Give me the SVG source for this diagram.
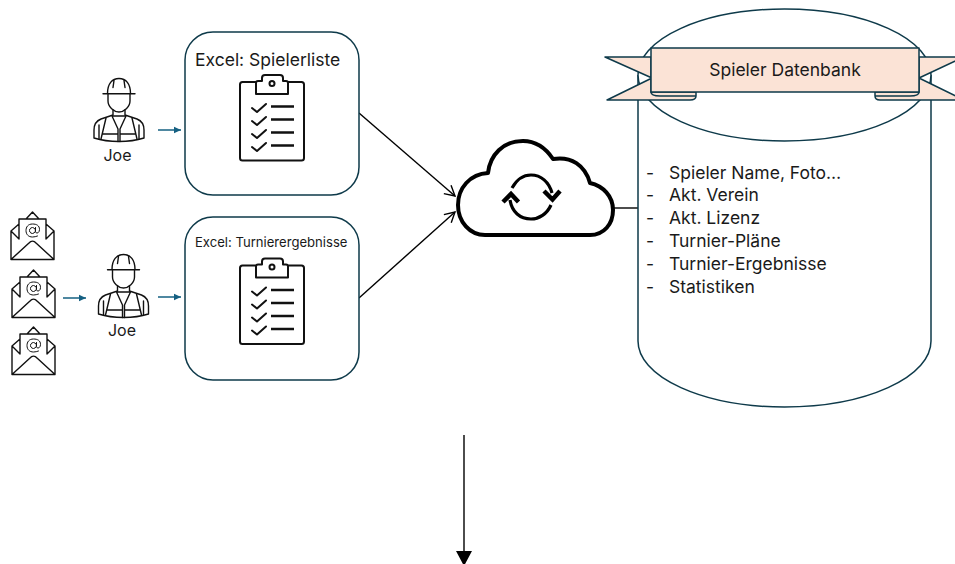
<svg xmlns="http://www.w3.org/2000/svg" xmlns:xlink="http://www.w3.org/1999/xlink" width="955" height="564" viewBox="0 0 955 564">
<style>
text{font-family:Inter,"Noto Sans","Liberation Sans",sans-serif;fill:#1a1a1a;font-size:17.500px}
text.joe{font-size:16px}
.box{fill:#fff;stroke:#0e3a4a;stroke-width:1.5}
.ic{fill:none;stroke:#111;stroke-width:1.400;stroke-linejoin:round;stroke-linecap:round}
.blue{stroke:#156082;stroke-width:1.5;fill:none;marker-end:url(#mb)}
.blk{stroke:#000;stroke-width:1.4;fill:none}
.rib{fill:#fbe3d6;stroke:#0e3a4a;stroke-width:1.5;stroke-linejoin:round}
</style>
<defs>
<marker id="mb" markerUnits="userSpaceOnUse" markerWidth="8" markerHeight="8" refX="7" refY="4" orient="auto"><path d="M0 .8L7 4L0 7.2z" fill="#156082"/></marker>
<marker id="mo" markerUnits="userSpaceOnUse" markerWidth="14" markerHeight="14" refX="12" refY="7" orient="auto"><path d="M2 1.5L12 7L2 12.5" fill="none" stroke="#000" stroke-width="1.4"/></marker>
<g id="worker" class="ic">
<path d="M-16 15.700H16M-11.500 15.500C-11.500 6-7 0.500 0 0.500C7 0.500 11.500 6 11.500 15.500M-5 2.500L-6 9.500M5 2.500L6 9.500"/>
<path d="M-11 16V23C-11 29-5 34 0 34C5 34 11 29 11 23V16"/>
<path d="M-6 32V37L-18 41C-23 43-25 47-25 52V60C-17 62.500-8 63.500 0 63.500C8 63.500 17 62.500 25 60V52C25 47 23 43 18 41L6 37V32"/>
<path d="M-7 38L-1 51M7 38L1 51M-1 51V63.500M1 51V63.500M-7 38H7M-13 40L-18 61M13 40L18 61M-16.500 56H-1M16.500 56H1M-20 47V61M20 47V61"/>
</g>
<g id="envelope" class="ic">
<path d="M0 19V47.500H43V19L35 12M0 19L8 12M15 7L21.500 0L28 7M8 27V7H35V27M0 19L8 27M43 19L35 27M0 47.500L18 31C20 28.500 23 28.500 25 31L43 47.500"/>
<path d="M24.500 18.500a3 3 0 1 0 0 .01zM24.500 15.500V19.500C24.500 22 28.500 21.500 28.500 17.500C28.500 13.500 25.500 12 21.500 12C17 12 15 15 15 18.500C15 22.500 17.500 25 21.500 25C23.500 25 25 24.500 26.500 24" stroke-width="1"/>
</g>
<g id="clipboard">
<path class="ic" style="stroke-width:2" d="M16 7H2.500Q0 7 0 9.500V83Q0 85.500 2.500 85.500H61.500Q64 85.500 64 83V9.500Q64 7 61.500 7H48M16 19V8Q16 6 18 6H22V3Q22 0 25 0H40Q43 0 43 3V6H46Q48 6 48 8V19Z"/>
<circle cx="32" cy="8.500" r="2.500" class="ic" style="stroke-width:2"/>
<path fill="none" stroke="#111" stroke-width="2.400" d="M31 31.500H54M31 44.500H54M31 57.500H54M31 70.500H54"/>
<path class="ic" style="stroke-width:2" d="M12 33L17 37L26 29M12 46L17 50L26 42M12 59L17 63L26 55M12 72L17 76L26 68"/>
</g>
</defs>
<rect width="955" height="564" fill="#fff"/>

<g id="connectors">
<path class="blue" d="M158 130H181"/>
<path class="blue" d="M158 297H181"/>
<path class="blue" d="M63 298H86"/>
<path class="blk" marker-end="url(#mo)" d="M359 113L455 196"/>
<path class="blk" marker-end="url(#mo)" d="M359 298L455 212"/>
<path class="blk" d="M614 208H638"/>
<path class="blk" d="M464 435V553"/>
<path d="M456 551H472L464 566z" fill="#000"/>
</g>

<g id="db">
<path class="box" d="M638 75V341A146.500 66 0 0 0 931 341V75"/>
<ellipse class="box" cx="784.500" cy="75" rx="146.500" ry="66"/>
<text x="646" y="179">-</text><text x="669" y="179">Spieler Name, Foto…</text>
<text x="646" y="201">-</text><text x="669" y="201">Akt. Verein</text>
<text x="646" y="224">-</text><text x="669" y="224">Akt. Lizenz</text>
<text x="646" y="247">-</text><text x="669" y="247">Turnier-Pläne</text>
<text x="646" y="270">-</text><text x="669" y="270">Turnier-Ergebnisse</text>
<text x="646" y="293">-</text><text x="669" y="293">Statistiken</text>
</g>

<g id="banner">
<path class="rib" d="M651 57H605L652 78L607 100H690Q696 100 696 96V92H651z"/>
<path class="rib" d="M919 57H964L919 78L964 100H880Q875 100 875 96V92H919z"/>
<path class="rib" d="M651 92Q651 96 660 96H696M919 92Q919 96 910 96H875" style="fill:none"/>
<rect class="rib" x="651" y="48" width="268" height="44"/>
<text x="785" y="76" text-anchor="middle">Spieler Datenbank</text>
</g>

<g id="box1">
<rect class="box" x="185" y="32" width="174" height="163" rx="28"/>
<text x="195" y="66">Excel: Spielerliste</text>
<use xlink:href="#clipboard" href="#clipboard" x="240" y="75"/>
</g>
<g id="box2">
<rect class="box" x="185" y="217" width="174" height="163" rx="28"/>
<text x="195" y="247" style="font-size:13.100px">Excel: Turnierergebnisse</text>
<use xlink:href="#clipboard" href="#clipboard" x="240" y="258.500"/>
</g>

<g id="worker1"><use xlink:href="#worker" href="#worker" x="119" y="78"/><text class="joe" x="117.500" y="161" text-anchor="middle">Joe</text></g>
<g id="worker2"><use xlink:href="#worker" href="#worker" x="123.500" y="254"/><text class="joe" x="122" y="336" text-anchor="middle">Joe</text></g>

<g id="mail1"><use xlink:href="#envelope" href="#envelope" x="11" y="212"/></g>
<g id="mail2"><use xlink:href="#envelope" href="#envelope" x="12" y="270"/></g>
<g id="mail3"><use xlink:href="#envelope" href="#envelope" x="12" y="327"/></g>

<g id="cloud">
<path fill="#fff" stroke="#000" stroke-width="4" stroke-linejoin="round" d="M485 235H590C604 235 613 224 613 210C613 196 603 186 590 183C585 165 571 156 553 159C545 147 535 141 523 141C503 141 490 155 488 173C470 174 458 188 458 205C458 222 470 235 485 235Z"/>
<path fill="none" stroke="#000" stroke-width="3.200" d="M512 188C517 179 524 175 531 175C541 175 549 182 552 193M551 205C547 214 539 219 531 219C520 219 512 212 510 200"/>
<path fill="none" stroke="#000" stroke-width="4.500" d="M544 191L552.500 199.500L560 191M503 202L511 194L518.500 202"/>
</g>
</svg>
